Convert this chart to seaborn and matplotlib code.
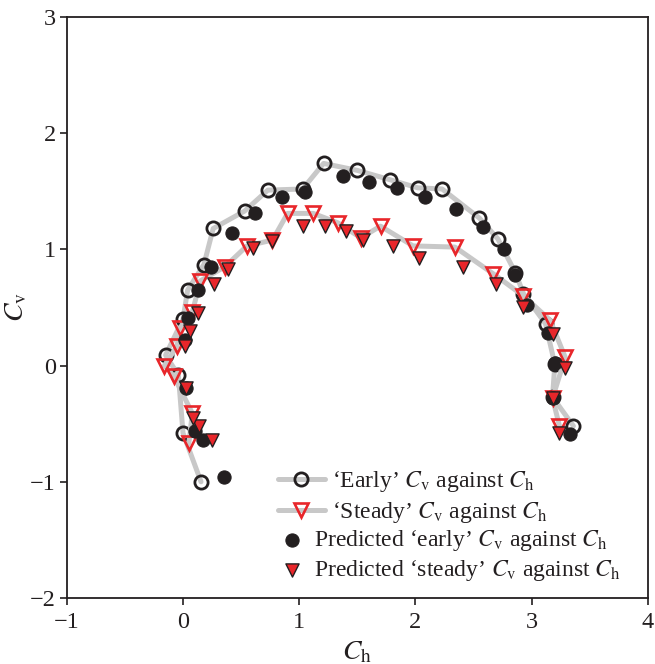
import matplotlib
matplotlib.use("Agg")
import matplotlib.pyplot as plt
import seaborn as sns
import numpy as np

# 'Early' Cv against Ch (measured)
early_ch = [0.155, 0.00, -0.04, -0.15, 0.00, 0.04, 0.18, 0.26, 0.53, 0.73, 1.03, 1.21,
            1.50, 1.78, 2.02, 2.23, 2.55, 2.71, 2.86, 2.93, 3.12, 3.20, 3.18, 3.36]
early_cv = [-1.00, -0.58, -0.08, 0.09, 0.40, 0.65, 0.87, 1.18, 1.33, 1.51, 1.52, 1.74,
            1.68, 1.60, 1.53, 1.52, 1.27, 1.09, 0.80, 0.62, 0.36, 0.01, -0.27, -0.52]

# 'Steady' Cv against Ch (measured)
steady_ch = [0.05, 0.08, -0.08, -0.16, -0.05, -0.03, 0.08, 0.15, 0.36, 0.55, 0.77, 0.90,
             1.12, 1.33, 1.53, 1.70, 1.98, 2.34, 2.67, 2.93, 3.16, 3.29, 3.18, 3.24]
steady_cv = [-0.67, -0.41, -0.09, 0.00, 0.17, 0.32, 0.46, 0.73, 0.85, 1.03, 1.08, 1.31,
             1.31, 1.23, 1.10, 1.20, 1.03, 1.02, 0.79, 0.60, 0.39, 0.07, -0.28, -0.52]

# Predicted 'early'
pred_early_ch = [0.35, 0.17, 0.10, 0.03, 0.02, 0.04, 0.13, 0.24, 0.42, 0.62, 0.85, 1.05,
                 1.38, 1.60, 1.84, 2.08, 2.35, 2.58, 2.76, 2.86, 2.96, 3.14, 3.20, 3.18, 3.33]
pred_early_cv = [-0.96, -0.64, -0.56, -0.19, 0.22, 0.41, 0.65, 0.85, 1.14, 1.31, 1.45, 1.49,
                 1.63, 1.58, 1.53, 1.45, 1.35, 1.19, 1.00, 0.78, 0.52, 0.28, 0.02, -0.28, -0.59]

# Predicted 'steady'
pred_steady_ch = [0.25, 0.14, 0.09, 0.03, 0.02, 0.06, 0.13, 0.27, 0.39, 0.60, 0.77, 1.03,
                  1.22, 1.40, 1.55, 1.81, 2.03, 2.41, 2.69, 2.93, 3.18, 3.29, 3.18, 3.24]
pred_steady_cv = [-0.64, -0.52, -0.45, -0.19, 0.17, 0.30, 0.45, 0.70, 0.83, 1.01, 1.07, 1.20,
                  1.20, 1.16, 1.08, 1.03, 0.93, 0.85, 0.70, 0.50, 0.27, -0.02, -0.28, -0.58]

x_ticks = [-1, 0, 1, 2, 3, 4]
y_ticks = [-2, -1, 0, 1, 2, 3]

sns.set_style("ticks")
plt.rcParams['font.family'] = ['Liberation Serif', 'DejaVu Serif']
plt.rcParams['mathtext.fontset'] = 'stix'

BLACK = '#231f20'
RED = '#e8262a'
GREY = '#c8c8c8'

fig = plt.figure(figsize=(6.55, 6.64), dpi=100)
ax = fig.add_axes([0.102, 0.0994, 0.887, 0.875])

sns.lineplot(x=early_ch, y=early_cv, sort=False, estimator=None, ax=ax,
             color=GREY, lw=3.6, marker='o', markersize=9.5,
             markerfacecolor='none', markeredgecolor=BLACK, markeredgewidth=2.0,
             label=r"‘Early’ $C_{\rm v}$ against $C_{\rm h}$", zorder=2)
sns.lineplot(x=steady_ch, y=steady_cv, sort=False, estimator=None, ax=ax,
             color=GREY, lw=3.6, marker='v', markersize=10,
             markerfacecolor='none', markeredgecolor=RED, markeredgewidth=1.9,
             label=r"‘Steady’ $C_{\rm v}$ against $C_{\rm h}$", zorder=2)
sns.scatterplot(x=pred_early_ch, y=pred_early_cv, ax=ax, marker='o', s=90,
                color=BLACK, edgecolor=BLACK, linewidth=0.8,
                label=r"Predicted ‘early’ $C_{\rm v}$ against $C_{\rm h}$", zorder=3)
sns.scatterplot(x=pred_steady_ch, y=pred_steady_cv, ax=ax, marker='v', s=90,
                color=RED, edgecolor=BLACK, linewidth=1.0,
                label=r"Predicted ‘steady’ $C_{\rm v}$ against $C_{\rm h}$", zorder=4)

ax.set_xlim(-1, 4)
ax.set_ylim(-2, 3)
ax.set_xticks(x_ticks)
ax.set_yticks(y_ticks)
ax.set_xticklabels(["\u22121" if v < 0 else str(v) for v in x_ticks])
ax.set_yticklabels(["\u2212" + str(-v) if v < 0 else str(v) for v in y_ticks])
ax.tick_params(direction='out', length=5, width=1.2, labelsize=17.5, color=BLACK,
               labelcolor=BLACK)
ax.tick_params(axis='x', pad=5)
ax.tick_params(axis='y', pad=3)
for sp in ax.spines.values():
    sp.set_visible(True)
    sp.set_linewidth(1.3)
    sp.set_color(BLACK)

ax.set_xlabel(r"$C_{\rm h}$", fontsize=20, color=BLACK, labelpad=5)
ax.set_ylabel(r"$C_{\rm v}$", fontsize=20, color=BLACK, labelpad=0)

handles, labels = ax.get_legend_handles_labels()
leg1 = ax.legend(handles[:2], labels[:2], loc='upper left',
                 bbox_to_anchor=(0.363, 0.222), frameon=False,
                 fontsize=17, handlelength=2.0, handletextpad=0.3,
                 labelspacing=0.25, borderaxespad=0, borderpad=0)
ax.add_artist(leg1)
leg2 = ax.legend(handles[2:], labels[2:], loc='upper left',
                 bbox_to_anchor=(0.368, 0.120), frameon=False,
                 fontsize=17, handlelength=1.0, handletextpad=0.42,
                 labelspacing=0.2, borderaxespad=0, borderpad=0)
for lg in (leg1, leg2):
    for t in lg.get_texts():
        t.set_color(BLACK)

fig.savefig("out.png", dpi=100)
